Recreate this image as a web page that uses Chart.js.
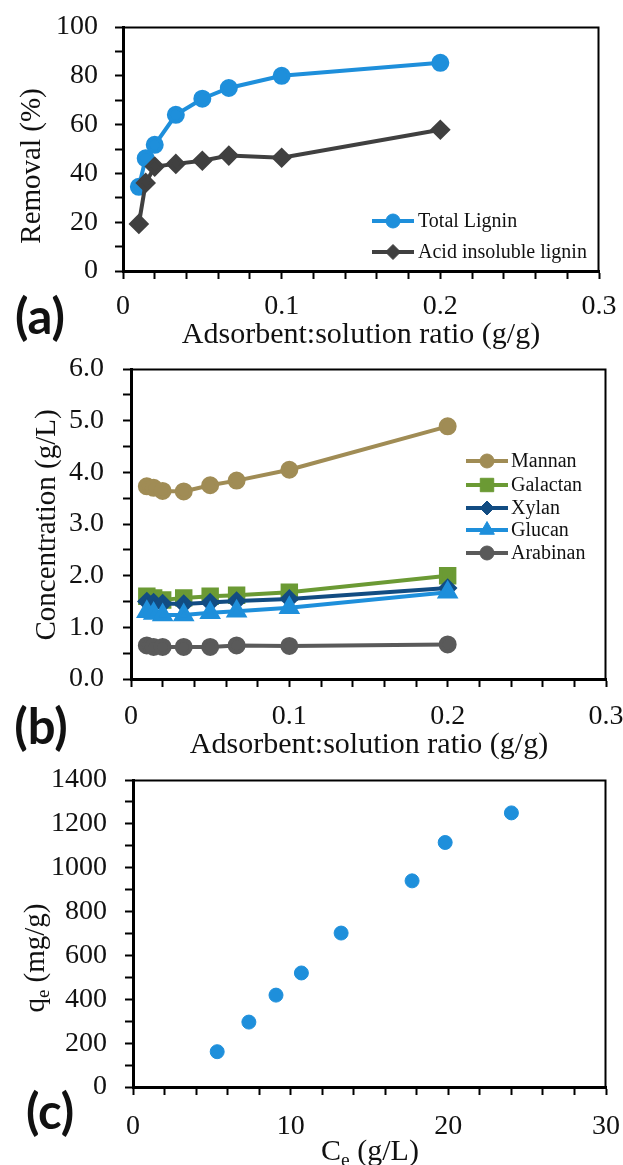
<!DOCTYPE html>
<html><head><meta charset="utf-8">
<script src="https://cdn.jsdelivr.net/npm/chart.js@4.4.1/dist/chart.umd.min.js"></script>
<style>
html,body{margin:0;padding:0;background:#fff;}
body{width:623px;height:1165px;position:relative;overflow:hidden;}
canvas{position:absolute;left:0;display:block;}
</style></head><body>
<canvas id="ca" width="623" height="355" style="top:0px"></canvas>
<canvas id="cb" width="623" height="405" style="top:355px"></canvas>
<canvas id="cc" width="623" height="405" style="top:760px"></canvas>
<script>
// ---------------- data ----------------
const ratioX = [0.01, 0.0143, 0.02, 0.0333, 0.05, 0.0667, 0.1, 0.2];
const totalLignin = [34.5, 46.2, 51.7, 64.0, 70.6, 75.0, 80.0, 85.3];
const acidInsolubleLignin = [19.3, 36.1, 42.8, 43.9, 45.2, 47.3, 46.4, 57.9];
const mannan = [3.73, 3.70, 3.64, 3.63, 3.75, 3.84, 4.05, 4.89];
const galactan = [1.60, 1.57, 1.53, 1.57, 1.60, 1.62, 1.68, 2.00];
const xylan = [1.50, 1.48, 1.46, 1.45, 1.48, 1.51, 1.55, 1.76];
const glucan = [1.30, 1.27, 1.24, 1.24, 1.28, 1.31, 1.38, 1.68];
const arabinan = [0.65, 0.62, 0.62, 0.62, 0.62, 0.65, 0.64, 0.67];
const ceValues = [5.34, 7.35, 9.07, 10.68, 13.2, 17.7, 19.8, 24.0];
const qeValues = [161, 296, 419, 520, 702, 940, 1115, 1250];
const ligninLabels = ['Total Lignin', 'Acid insoluble lignin'];
const sugarLabels = ['Mannan', 'Galactan', 'Xylan', 'Glucan', 'Arabinan'];

// ---------------- helpers ----------------
const SERIF = "'Liberation Serif', 'DejaVu Serif', serif";
const TICK_SIZE = 28;
const pts = (xs, ys) => xs.map((x, i) => ({x, y: ys[i]}));

function drawRich(ctx, parts, size) {
  let w = 0;
  const items = parts.map(p => {
    const fs = p.sub ? size * 0.65 : size;
    ctx.font = fs + 'px ' + SERIF;
    const mw = ctx.measureText(p.t).width;
    const it = {t: p.t, fs, w: mw, dy: p.sub ? size * 0.28 : 0};
    w += mw;
    return it;
  });
  let x = -w / 2;
  ctx.textAlign = 'left';
  ctx.textBaseline = 'middle';
  items.forEach(it => {
    ctx.font = it.fs + 'px ' + SERIF;
    ctx.fillText(it.t, x, it.dy);
    x += it.w;
  });
}

function drawMarker(ctx, style, r, x, y) {
  if (Chart.helpers && Chart.helpers.drawPoint) {
    Chart.helpers.drawPoint(ctx, {pointStyle: style, radius: r, rotation: 0, borderWidth: 1}, x, y);
  } else {
    ctx.beginPath(); ctx.arc(x, y, r, 0, Math.PI * 2); ctx.fill(); ctx.stroke();
  }
}

const decor = {
  id: 'decor',
  afterDraw(chart, args, o) {
    const {ctx, chartArea: a} = chart;
    ctx.save();
    ctx.strokeStyle = '#000';
    ctx.lineWidth = 2;
    ctx.beginPath();
    ctx.moveTo(a.left, a.top + 0.5);
    ctx.lineTo(a.right - 0.5, a.top + 0.5);
    ctx.lineTo(a.right - 0.5, a.bottom);
    ctx.stroke();
    ctx.fillStyle = '#111';
    ctx.font = "bold 49px Lato, 'Open Sans', sans-serif";
    ctx.textAlign = 'center';
    ctx.textBaseline = 'middle';
    ctx.fillText(o.letter[0], o.letter[1], o.letter[2]);
    ctx.save();
    ctx.translate(o.xTitle.x, o.xTitle.y);
    drawRich(ctx, o.xTitle.parts, o.xTitle.size);
    ctx.restore();
    ctx.save();
    ctx.translate(o.yTitle.x, o.yTitle.y);
    ctx.rotate(-Math.PI / 2);
    drawRich(ctx, o.yTitle.parts, o.yTitle.size);
    ctx.restore();
    if (o.legend) {
      const L = o.legend;
      chart.data.datasets.forEach((ds, i) => {
        const y = L.ys[i];
        ctx.strokeStyle = ds.borderColor;
        ctx.lineWidth = ds.borderWidth;
        ctx.beginPath(); ctx.moveTo(L.x1, y); ctx.lineTo(L.x2, y); ctx.stroke();
        ctx.fillStyle = ds.pointBackgroundColor;
        ctx.strokeStyle = ds.pointBorderColor;
        ctx.lineWidth = 1;
        drawMarker(ctx, ds.pointStyle, ds.pointRadius, (L.x1 + L.x2) / 2, y);
        ctx.fillStyle = '#111';
        ctx.font = L.size + 'px ' + SERIF;
        ctx.textAlign = 'left';
        ctx.textBaseline = 'middle';
        ctx.fillText(ds.label, L.tx, y + 1);
      });
    }
    ctx.restore();
  }
};

function axisCommon() {
  return {
    type: 'linear',
    border: {display: true, color: '#000', width: 3},
    grid: {display: true, drawOnChartArea: false, drawTicks: true, tickLength: 8, tickColor: '#000', tickWidth: 2},
  };
}

function makeChart(id, type, datasets, box, xs, ys, deco) {
  const H = box.H, W = 623;
  const xAxis = Object.assign(axisCommon(), {
    min: xs.min, max: xs.max,
    ticks: {stepSize: xs.step, autoSkip: false, maxRotation: 0, padding: xs.pad, color: '#111',
      font: {family: SERIF, size: TICK_SIZE},
      callback: v => xs.fmt(v)},
    afterFit(s) { s.height = H - box.B; s.paddingLeft = 0; s.paddingRight = 0; }
  });
  const yAxis = Object.assign(axisCommon(), {
    min: ys.min, max: ys.max,
    ticks: {stepSize: ys.step, autoSkip: false, padding: ys.pad, color: '#111',
      font: {family: SERIF, size: TICK_SIZE},
      callback: v => ys.fmt(v)},
    afterFit(s) { s.width = box.L; s.paddingTop = 0; s.paddingBottom = 0; }
  });
  return new Chart(document.getElementById(id), {
    type,
    data: {datasets},
    options: {
      responsive: false, animation: false, devicePixelRatio: 1, events: [],
      layout: {autoPadding: false, padding: {top: box.T, right: W - box.R, left: 0, bottom: 0}},
      plugins: {legend: {display: false}, tooltip: {enabled: false}, decor: deco},
      scales: {x: xAxis, y: yAxis}
    },
    plugins: [decor]
  });
}

const major = (v, m, d) => {
  const k = v / m;
  return Math.abs(k - Math.round(k)) < 1e-6 ? (Math.round(k) * m).toFixed(d) : '';
};

// ---------------- panel (a) ----------------
const colTotal = '#1E8FDB', colAcid = '#404040';
makeChart('ca', 'line', [
  {label: ligninLabels[0], data: pts(ratioX, totalLignin), borderColor: colTotal, borderWidth: 4,
   pointStyle: 'circle', pointRadius: 7, pointBackgroundColor: colTotal, pointBorderColor: colTotal, order: 2},
  {label: ligninLabels[1], data: pts(ratioX, acidInsolubleLignin), borderColor: colAcid, borderWidth: 4,
   pointStyle: 'rectRot', pointRadius: 7.5, pointBackgroundColor: colAcid, pointBorderColor: colAcid, order: 1}
], {H: 355, L: 123, R: 599, T: 27, B: 271},
 {min: 0, max: 0.3, step: 0.02, pad: 11, fmt: v => major(v, 0.1, v < 0.05 ? 0 : 1)},
 {min: 0, max: 100, step: 10, pad: 17, fmt: v => major(v, 20, 0)},
 {letter: ['(a)', 40, 318],
  xTitle: {x: 361, y: 335, size: 30, parts: [{t: 'Adsorbent:solution ratio (g/g)'}]},
  yTitle: {x: 32, y: 166, size: 29, parts: [{t: 'Removal (%)'}]},
  legend: {x1: 372, x2: 414, tx: 418, ys: [221, 252], size: 20}});

// ---------------- panel (b) ----------------
const sugarColors = ['#A08C55', '#6B9A34', '#124C82', '#1E8FDB', '#5A5A5A'];
const sugarData = [mannan, galactan, xylan, glucan, arabinan];
const sugarStyles = [['circle', 7], ['rect', 9.5], ['rectRot', 7], ['triangle', 8.5], ['circle', 7]];
makeChart('cb', 'line', sugarData.map((d, i) => ({
  label: sugarLabels[i], data: pts(ratioX, d), borderColor: sugarColors[i], borderWidth: 4,
  pointStyle: sugarStyles[i][0], pointRadius: sugarStyles[i][1],
  pointBackgroundColor: sugarColors[i], pointBorderColor: sugarColors[i], order: 10 - i
})), {H: 405, L: 131, R: 606, T: 14, B: 324},
 {min: 0, max: 0.3, step: 0.02, pad: 13, fmt: v => major(v, 0.1, v < 0.05 ? 0 : 1)},
 {min: 0, max: 6, step: 0.5, pad: 19, fmt: v => major(v, 1, 1)},
 {letter: ['(b)', 41, 373],
  xTitle: {x: 369, y: 390, size: 30, parts: [{t: 'Adsorbent:solution ratio (g/g)'}]},
  yTitle: {x: 47, y: 170, size: 29, parts: [{t: 'Concentration (g/L)'}]},
  legend: {x1: 466, x2: 508, tx: 511, ys: [106, 130, 153, 175, 198], size: 20}});

// ---------------- panel (c) ----------------
const colScatter = '#1E8FDB';
makeChart('cc', 'scatter', [
  {label: 'qe', data: pts(ceValues, qeValues), showLine: false, pointStyle: 'circle', pointRadius: 7,
   backgroundColor: colScatter, borderColor: colScatter, pointBackgroundColor: colScatter, pointBorderColor: colScatter}
], {H: 405, L: 133, R: 606, T: 20, B: 327},
 {min: 0, max: 30, step: 2, pad: 15, fmt: v => major(v, 10, 0)},
 {min: 0, max: 1400, step: 100, pad: 18, fmt: v => major(v, 200, 0)},
 {letter: ['(c)', 50, 353],
  xTitle: {x: 370, y: 392, size: 30, parts: [{t: 'C'}, {t: 'e', sub: true}, {t: ' (g/L)'}]},
  yTitle: {x: 36, y: 198, size: 29, parts: [{t: 'q'}, {t: 'e', sub: true}, {t: ' (mg/g)'}]}});
</script>
</body></html>
